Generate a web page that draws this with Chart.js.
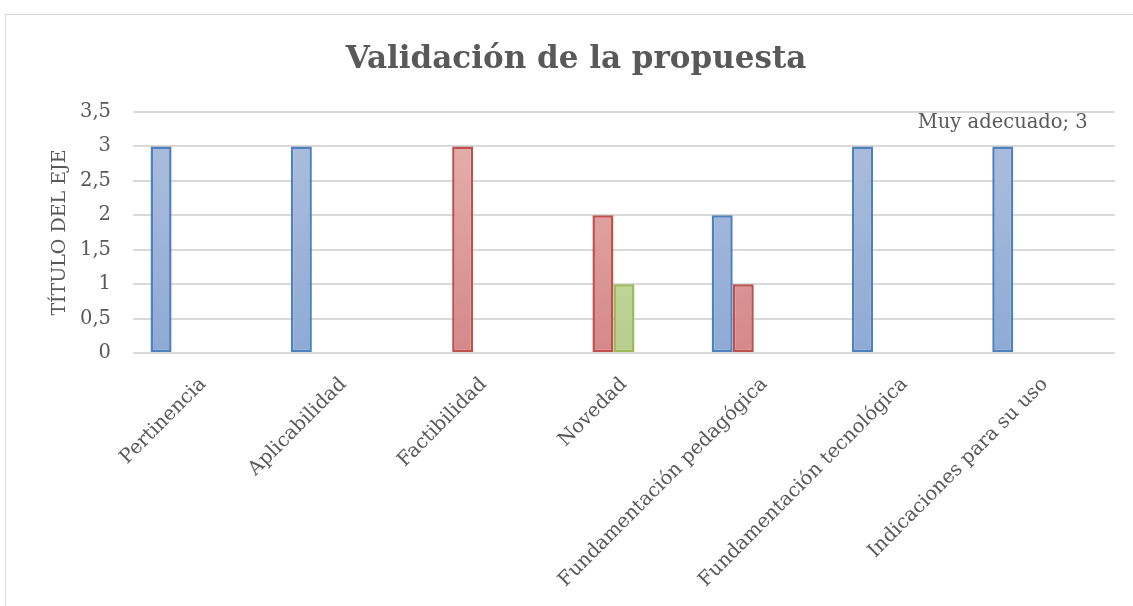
<!DOCTYPE html>
<html>
<head>
<meta charset="utf-8">
<script src="https://cdn.jsdelivr.net/npm/chart.js@4/dist/chart.umd.min.js"></script>
<style>
  html, body { margin: 0; padding: 0; background: #fff; }
  #wrap { width: 1133px; height: 606px; position: relative; }
</style>
</head>
<body>
<div id="wrap"><canvas id="grafico" width="1133" height="606"></canvas></div>
<script>
// datos
const categorias = ['Pertinencia', 'Aplicabilidad', 'Factibilidad', 'Novedad',
  'Fundamentación pedagógica', 'Fundamentación tecnológica', 'Indicaciones para su uso'];
const muyAdecuado      = [3, 3, null, null, 2, 3, 3];
const bastanteAdecuado = [null, null, 3, 2, 1, null, null];
const adecuado         = [null, null, null, 1, null, null, null];
const pocoAdecuado     = [null, null, null, null, null, null, null];
const noAdecuado       = [null, null, null, null, null, null, null];
const ticksY = [0, 0.5, 1, 1.5, 2, 2.5, 3, 3.5];

const fuente = "'DejaVu Serif', 'Liberation Serif', serif";
const gris = '#595959';

function degradado(arriba, abajo) {
  return function (ctx) {
    const chart = ctx.chart;
    const area = chart.chartArea;
    if (!area) return abajo;
    const y = chart.scales.y;
    const g = chart.ctx.createLinearGradient(0, y.getPixelForValue(3), 0, y.getPixelForValue(0));
    g.addColorStop(0, arriba);
    g.addColorStop(1, abajo);
    return g;
  };
}

const marco = {
  id: 'marco',
  beforeDraw(chart) {
    const c = chart.ctx;
    c.save();
    c.fillStyle = '#fff';
    c.fillRect(0, 0, chart.width, chart.height);
    c.strokeStyle = '#d9d9d9';
    c.lineWidth = 1;
    c.strokeRect(5.5, 14.5, 2000, 2000);
    c.restore();
  },
  afterDraw(chart) {
    const c = chart.ctx;
    c.save();
    c.fillStyle = gris;
    c.textAlign = 'center';
    c.textBaseline = 'middle';
    c.font = 'bold 31px ' + fuente;
    c.fillText('Validación de la propuesta', 576, 60);
    // etiqueta de datos de la ultima barra
    const barra = chart.getDatasetMeta(0).data[6];
    c.font = '19.5px ' + fuente;
    c.fillText('Muy adecuado; 3', barra.x, barra.y - 23);
    c.restore();
  }
};

new Chart(document.getElementById('grafico'), {
  type: 'bar',
  data: {
    labels: categorias,
    datasets: [
      { label: 'Muy adecuado', data: muyAdecuado,
        backgroundColor: degradado('#aabcdc', '#8eaad5'), borderColor: '#4f81bd' },
      { label: 'Bastante adecuado', data: bastanteAdecuado,
        backgroundColor: degradado('#e2adab', '#d5888a'), borderColor: '#c0504d' },
      { label: 'Adecuado', data: adecuado,
        backgroundColor: degradado('#d0ddb0', '#b8cd8c'), borderColor: '#9bbb59' },
      { label: 'Poco adecuado', data: pocoAdecuado,
        backgroundColor: '#b3a2c7', borderColor: '#8064a2' },
      { label: 'No adecuado', data: noAdecuado,
        backgroundColor: '#93cddd', borderColor: '#4bacc6' }
    ]
  },
  options: {
    responsive: false,
    animation: false,
    layout: { padding: { top: 112, right: 18, left: 49, bottom: 0 } },
    datasets: {
      bar: { borderWidth: 2.5, borderSkipped: false, categoryPercentage: 0.75, barPercentage: 1 }
    },
    plugins: {
      legend: { display: false },
      title: { display: false },
      tooltip: { enabled: false }
    },
    scales: {
      x: {
        grid: { display: false, drawTicks: false },
        border: { display: false },
        ticks: { color: gris, font: { family: fuente, size: 19.5 }, minRotation: 45, maxRotation: 45, padding: 20 },
        afterFit(s) { s.height = 606 - 353; }
      },
      y: {
        min: 0, max: 3.5,
        afterBuildTicks(s) { s.ticks = ticksY.map(v => ({ value: v })); },
        grid: { color: '#d9d9d9', lineWidth: 2, drawTicks: false },
        border: { display: false },
        ticks: {
          color: gris, font: { family: fuente, size: 19.5 }, padding: 22,
          callback: v => String(v).replace('.', ',')
        },
        title: { display: true, text: 'TÍTULO DEL EJE', color: gris, font: { family: fuente, size: 19 }, padding: 0 },
        afterFit(s) { s.width = 133 - 49; }
      }
    }
  },
  plugins: [marco]
});
</script>
</body>
</html>
